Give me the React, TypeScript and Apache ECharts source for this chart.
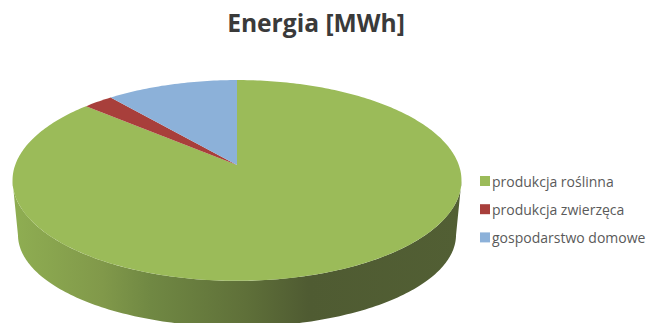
import React, { useEffect, useRef } from "react";
import * as echarts from "echarts";

const titleText = "Energia [MWh]";
const categories = ["produkcja roślinna", "produkcja zwierzęca", "gospodarstwo domowe"];
const energyShares = [86.5, 2.5, 11];
const sliceColors = ["#9bbb59", "#a83f3b", "#8cb1d9"];

const WIDTH = 647;
const HEIGHT = 323;

// Perspective projection of the unit disc lying flat, tilted towards the viewer.
const TILT = 0.154;
const topRim = { cx: 237, cy: 165, a: 221.8, b: 98 };
const bottomRim = { cx: 237, cy: 220.8, a: 216.4, b: 89.7 };

type Rim = typeof topRim;

// Angle runs clockwise from twelve o'clock, in degrees.
function project(rim: Rim, deg: number): [number, number] {
  const rad = (deg * Math.PI) / 180;
  const u = Math.sin(rad);
  const v = -Math.cos(rad);
  const w = 1 - TILT * v;
  return [rim.cx + (rim.a * u) / w, rim.cy + (rim.b * v) / w];
}

function arcPoints(rim: Rim, from: number, to: number): [number, number][] {
  const steps = Math.max(2, Math.ceil(Math.abs(to - from)));
  const pts: [number, number][] = [];
  for (let i = 0; i <= steps; i++) pts.push(project(rim, from + ((to - from) * i) / steps));
  return pts;
}

// Part of the rim facing the viewer, where the side wall is visible.
const FRONT_START = 99;
const FRONT_END = 261;

const sideFill = new echarts.graphic.LinearGradient(
  12,
  0,
  461,
  0,
  [
    { offset: 0, color: "#8fae52" },
    { offset: 0.2, color: "#81994a" },
    { offset: 0.31, color: "#708843" },
    { offset: 0.52, color: "#5f7039" },
    { offset: 0.66, color: "#4f5b32" },
    { offset: 1, color: "#525f34" },
  ],
  true
);

function makeRenderItem(seriesIndex: number) {
  return (_params: any, api: any) => {
    const total = energyShares.reduce((s, v) => s + v, 0);
    const before = energyShares.slice(0, seriesIndex).reduce((s, v) => s + v, 0);
    const start = (before / total) * 360;
    const end = start + (api.value(0) / total) * 360;
    const children: any[] = [];

    const sideFrom = Math.max(start, FRONT_START);
    const sideTo = Math.min(end, FRONT_END);
    if (sideTo > sideFrom) {
      const upper = arcPoints(topRim, sideFrom, sideTo);
      const lower = arcPoints(bottomRim, sideTo, sideFrom);
      children.push({
        type: "polygon",
        shape: { points: [...upper, ...lower] },
        style: { fill: sideFill },
      });
    }

    children.push({
      type: "polygon",
      shape: { points: [[topRim.cx, topRim.cy], ...arcPoints(topRim, start, end)] },
      style: { fill: sliceColors[seriesIndex] },
    });
    return { type: "group", children };
  };
}

export default function App() {
  const ref = useRef<HTMLDivElement>(null);

  useEffect(() => {
    document.body.style.margin = "0";
    const chart = echarts.init(ref.current!, undefined, { renderer: "svg" });
    chart.setOption({
      animation: false,
      backgroundColor: "#ffffff",
      title: {
        text: titleText,
        left: 311,
        top: 5,
        textAlign: "center",
        textStyle: {
          fontFamily: "Open Sans",
          fontSize: 24.6,
          fontWeight: "bold",
          color: "#3a3a3a",
        },
      },
      legend: {
        orient: "vertical",
        left: 480,
        top: 174,
        icon: "rect",
        itemWidth: 10,
        itemHeight: 10,
        itemGap: 14.2,
        padding: 0,
        selectedMode: false,
        data: categories,
        textStyle: {
          fontFamily: "Open Sans",
          fontSize: 14,
          color: "#5a5a5a",
          padding: [0, 0, 0, -3],
        },
      },
      series: categories.map((name, i) => ({
        type: "custom",
        name,
        coordinateSystem: "none",
        silent: true,
        itemStyle: { color: sliceColors[i] },
        renderItem: makeRenderItem(i),
        data: [[energyShares[i]]],
      })),
    });
    return () => chart.dispose();
  }, []);

  return <div ref={ref} style={{ width: WIDTH, height: HEIGHT }} />;
}
